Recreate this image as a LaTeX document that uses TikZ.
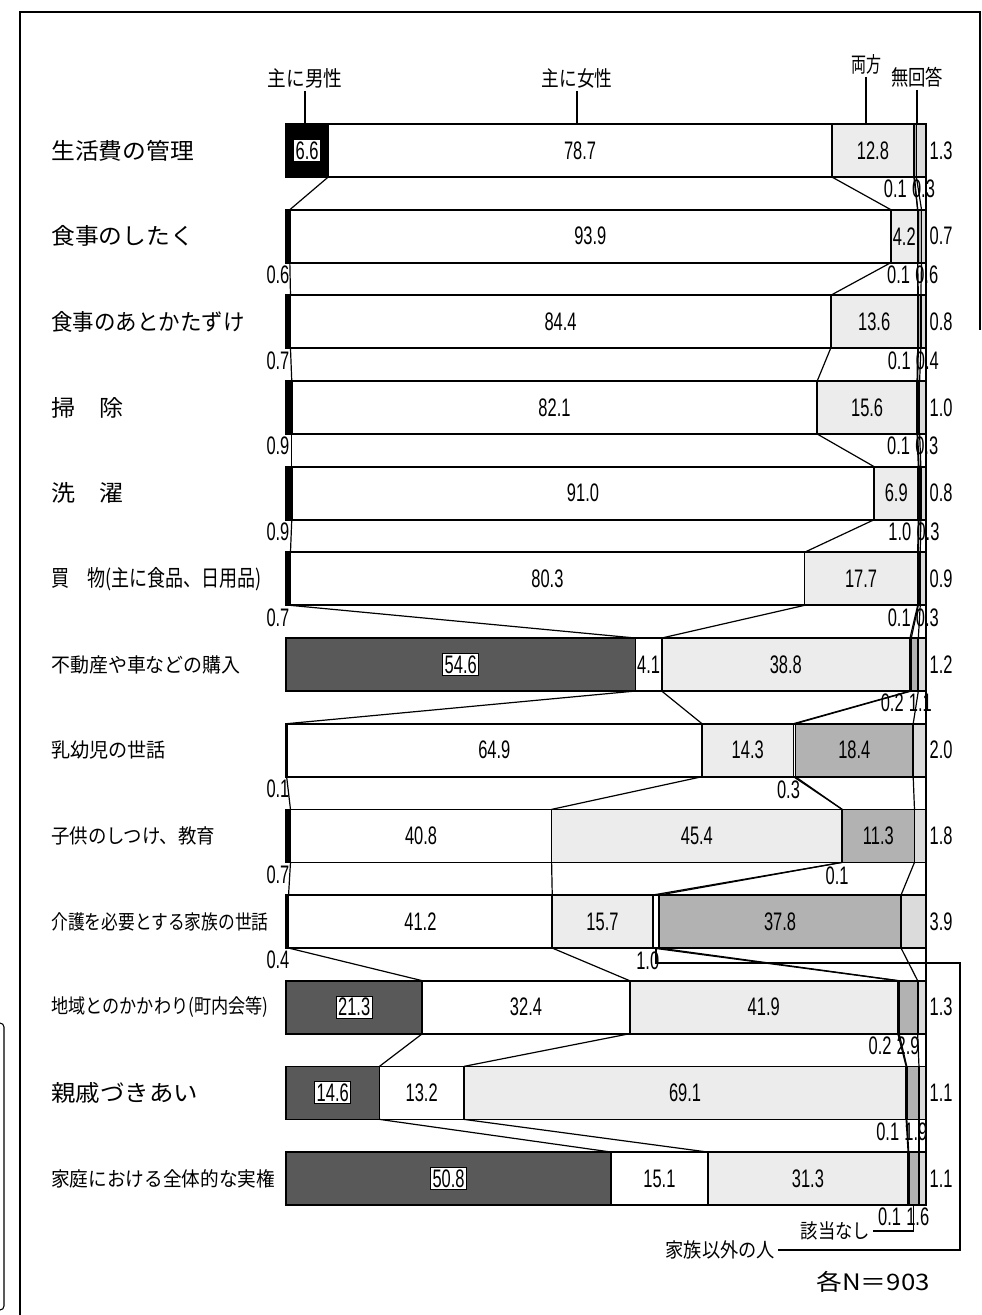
\documentclass[tikz,border=0pt]{standalone}
\usepackage{graphicx}
\usepackage{fontspec}
\setmainfont{Noto Sans CJK JP}
\newfontfamily\numfont{Liberation Sans}
\usetikzlibrary{calc}
\colorlet{mengray}{black!65}
\colorlet{bothgray}{gray!15}
\colorlet{nagray}{gray!60}
\colorlet{nrgray}{gray!28}
\newcommand\pct[1]{\scalebox{0.65}[1]{#1}}
\newcommand\fitw[2]{\resizebox{#1pt}{\height}{#2}}

\begin{document}
\begin{tikzpicture}[x=0.75pt, y=-0.75pt,
bar/.style={draw, line width=1.3pt},
link/.style={line width=0.9pt},
pct/.style={font=\numfont\fontsize{19}{19}\selectfont, inner sep=1pt},
boxpct/.style={pct, fill=white, draw, line width=0.8pt, inner sep=1.5pt},
head/.style={font=\fontsize{16}{16}\selectfont, inner sep=2pt},
cat/.style={anchor=west, inner sep=0pt}
]
\useasboundingbox (0,0) rectangle (982,1315);
\draw[line width=1.2pt] (20,1315) -- (20,12) -- (980,12) -- (980,330);
\draw[line width=0.8pt, rounded corners=3pt] (0,1023) -- (4,1023) -- (4,1310) -- (0,1310);

\foreach \i/\vm/\vw/\vb/\vo/\vn/\vr in {
	0/6.6/78.7/12.8/0.1/0.3/1.3,
	1/0.6/93.9/4.2/0.1/0.6/0.7,
	2/0.7/84.4/13.6/0.1/0.4/0.8,
	3/0.9/82.1/15.6/0.1/0.3/1.0,
	4/0.9/91.0/6.9/1.0/0.3/0.8,
	5/0.7/80.3/17.7/0.1/0.3/0.9,
	6/54.6/4.1/38.8/0.2/1.1/1.2,
	7/0.1/64.9/14.3/0.3/18.4/2.0,
	8/0.7/40.8/45.4/0.1/11.3/1.8,
	9/0.4/41.2/15.7/1.0/37.8/3.9,
	10/21.3/32.4/41.9/0.2/2.9/1.3,
	11/14.6/13.2/69.1/0.1/1.9/1.1,
	12/50.8/15.1/31.3/0.1/1.6/1.1}
{
	\pgfmathsetmacro\yt{124+85.67*\i}
	\pgfmathsetmacro\yb{\yt+53}
	\pgfmathsetmacro\og{max(0,min(\vo,100-\vm-\vw-\vb-\vn-\vr))}
	\pgfmathsetmacro\ca{\vm}
	\pgfmathsetmacro\cb{\ca+\vw}
	\pgfmathsetmacro\cc{\cb+\vb}
	\pgfmathsetmacro\cd{\cc+\og}
	\pgfmathsetmacro\ce{\cd+\vn}
	\foreach \k/\p in {0/0,1/\ca,2/\cb,3/\cc,4/\cd,5/\ce,6/100}
	{
		\coordinate (t\i-\k) at ({286+6.4*\p},\yt);
		\coordinate (b\i-\k) at ({286+6.4*\p},\yb);
	}
	\ifdim\vm pt>10pt \def\mencol{mengray}\else\def\mencol{black}\fi
	\foreach \k/\col in {0/\mencol,1/white,2/bothgray,3/white,4/nagray,5/nrgray}
	{
		\pgfmathtruncatemacro\kk{\k+1}
		\draw[bar, fill=\col] (t\i-\k) rectangle (b\i-\kk);
	}
	\ifdim\vm pt>5pt
		\node[boxpct] at ($(t\i-0)!0.5!(b\i-1)$) {\pct{\vm}};
	\else
		\node[pct, anchor=east] at (291,\yb+12) {\pct{\vm}};
	\fi
	\node[pct] at ($(t\i-1)!0.5!(b\i-2)$) {\pct{\vw}};
	\node[pct] at ($(t\i-2)!0.5!(b\i-3)$) {\pct{\vb}};
	\ifdim\vn pt>5pt
		\node[pct] at ($(t\i-4)!0.5!(b\i-5)$) {\pct{\vn}};
		\node[pct] at ($(b\i-3)+(-5,13)$) {\pct{\vo}};
	\else
		\node[pct, anchor=west] (na\i) at ($(b\i-4)+(-4,12)$) {\pct{\vn}};
		\node[pct, anchor=east] at ($(na\i.west)+(-2,0)$) {\pct{\vo}};
	\fi
	\node[pct, anchor=west] at ($(t\i-6)+(2,26.5)$) {\pct{\vr}};
}

\foreach \i/\txt/\lw/\fs in {
	0/生活費の管理/107/17,
	1/食事のしたく/107/17,
	2/食事のあとかたずけ/145/17,
	3/掃　除/54/17,
	4/洗　濯/54/17,
	5/買　物(主に食品、日用品)/158/17,
	6/不動産や車などの購入/142/15,
	7/乳幼児の世話/86/15,
	8/子供のしつけ、教育/123/15,
	9/介護を必要とする家族の世話/163/15,
	10/地域とのかかわり(町内会等)/163/15,
	11/親戚づきあい/110/17,
	12/家庭における全体的な実権/168/15}
{
	\node[cat, font=\fontsize{\fs}{\fs}\selectfont] (cat\i) at (51,{150.5+85.67*\i}) {\fitw{\lw}{\txt}};
}

\node[head] (hmen) at (305,78) {\fitw{56}{主に男性}};
\node[head] (hwomen) at (577,78) {\fitw{53}{主に女性}};
\node[head] (hboth) at (866,64) {\fitw{22.5}{両方}};
\node[head] (hnr) at (917,77) {\fitw{39}{無回答}};
\foreach \h in {hmen,hwomen,hboth,hnr}
	\draw[link] (\h.south) -- (\h.south |- t0-0);

\foreach \i in {0,...,11}
{
	\pgfmathtruncatemacro\j{\i+1}
	\foreach \k in {1,...,6}
		\draw[link] (b\i-\k) -- (t\j-\k);
}

\node[head, anchor=east, font=\fontsize{15}{15}\selectfont] (lother) at (778,1250) {\fitw{82}{家族以外の人}};
\node[head, anchor=east, font=\fontsize{15}{15}\selectfont] (lna) at (873,1231) {\fitw{52}{該当なし}};
\coordinate (lcorner) at (960,1250);
\draw[link] ($(b9-3)!0.5!(b9-4)$) -- ++(0,15) -| (lcorner) -- (lother.east);
\draw[link] ($(b12-4)!0.5!(b12-5)$) |- (lna.east);
\node[font=\fontsize{17}{17}\selectfont] (nall) at (873,1282) {\fitw{85}{各N＝903}};
\end{tikzpicture}
\end{document}
